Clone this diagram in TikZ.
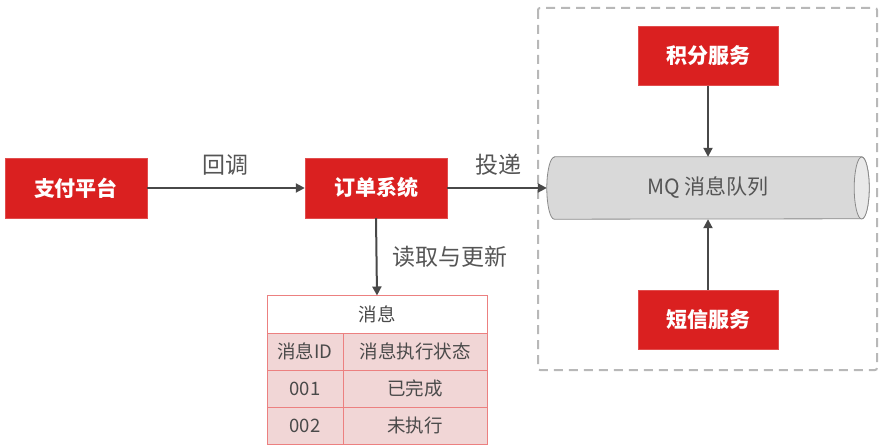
\documentclass[tikz,border=0pt]{standalone}
\usepackage{fontspec}
\setmainfont{Noto Sans CJK SC}
\usetikzlibrary{arrows.meta}
\definecolor{boxred}{HTML}{DA2020}
\definecolor{txtgray}{HTML}{555555}
\definecolor{tabtxt}{HTML}{4A4A4A}
\definecolor{lngray}{HTML}{484848}
\definecolor{cylfill}{HTML}{D9D9D9}
\definecolor{cylend}{HTML}{E9E9E9}
\definecolor{cylline}{HTML}{8A8A8A}
\definecolor{tabfill}{HTML}{F1D6D6}
\definecolor{tabline}{HTML}{EC8080}
\definecolor{dashgray}{HTML}{B8B8B8}
\tikzset{
  redbox/.style={fill=boxred, draw=boxred!80!white, text=white, font=\fontsize{21}{25}\selectfont\bfseries, minimum width=142pt, minimum height=60pt, inner sep=0pt},
  lbl/.style={text=txtgray, font=\fontsize{23}{27}\selectfont, inner sep=0pt},
  conn/.style={draw=lngray, line width=2pt, -{Triangle[length=9pt,width=9pt]}},
  cell/.style={draw=tabline, fill=tabfill, line width=1pt, text=tabtxt, font=\fontsize{18.5}{22}\selectfont, inner sep=0pt, minimum height=37pt},
}
\begin{document}
\begin{tikzpicture}[x=1pt,y=-1pt]
\useasboundingbox (0,0) rectangle (886,446);
% dashed group
\draw[dashgray, line width=2pt, dash pattern=on 9pt off 6pt, rounded corners=2pt] (538,8) rectangle (877,370);
% boxes
\node[redbox] (pay) at (76,188) {支付平台};
\node[redbox] (order) at (376,188) {订单系统};
\node[redbox, minimum width=140pt, minimum height=59pt] (points) at (708,56) {积分服务};
\node[redbox, minimum width=140pt, minimum height=59pt] (sms) at (708,319.5) {短信服务};
% MQ cylinder
\node[minimum width=322pt, minimum height=62pt, inner sep=0pt] (mq) at (708,188) {};
\draw[cylline, fill=cylfill, line width=0.8pt] ([xshift=7.5pt]mq.north west) -- ([xshift=-7.5pt]mq.north east)
  arc[start angle=90, end angle=-90, x radius=7.5pt, y radius=31pt]
  -- ([xshift=7.5pt]mq.south west)
  arc[start angle=270, end angle=90, x radius=7.5pt, y radius=31pt] -- cycle;
\draw[cylline, fill=cylend, line width=0.8pt] ([xshift=-7.5pt]mq.east) ellipse[x radius=7.5pt, y radius=31pt];
\node[text=txtgray, font=\fontsize{21}{25}\selectfont] (mqt) at (mq.center) {MQ 消息队列};
% table
\node[cell, fill=white, minimum width=220pt] (hdr) at (377,314.5) {消息};
\node[cell, minimum width=76pt] (c11) at (305,351.5) {消息ID};
\node[cell, minimum width=144pt] (c12) at (415,351.5) {消息执行状态};
\node[cell, minimum width=76pt] (c21) at (305,388.5) {001};
\node[cell, minimum width=144pt] (c22) at (415,388.5) {已完成};
\node[cell, minimum width=76pt] (c31) at (305,425.5) {002};
\node[cell, minimum width=144pt] (c32) at (415,425.5) {未执行};
% connectors
\draw[conn] (pay.east) -- (order.west);
\draw[conn] (order.east) -- (mq.west);
\draw[conn] (order.south) -- (hdr.north);
\draw[conn] (points.south) -- (mq.north);
\draw[conn] (sms.north) -- (mq.south);
% labels
\node[lbl] (l1) at (225,165) {回调};
\node[lbl] (l2) at (498,165) {投递};
\node[lbl] (l3) at (450,257) {读取与更新};
\end{tikzpicture}
\end{document}
